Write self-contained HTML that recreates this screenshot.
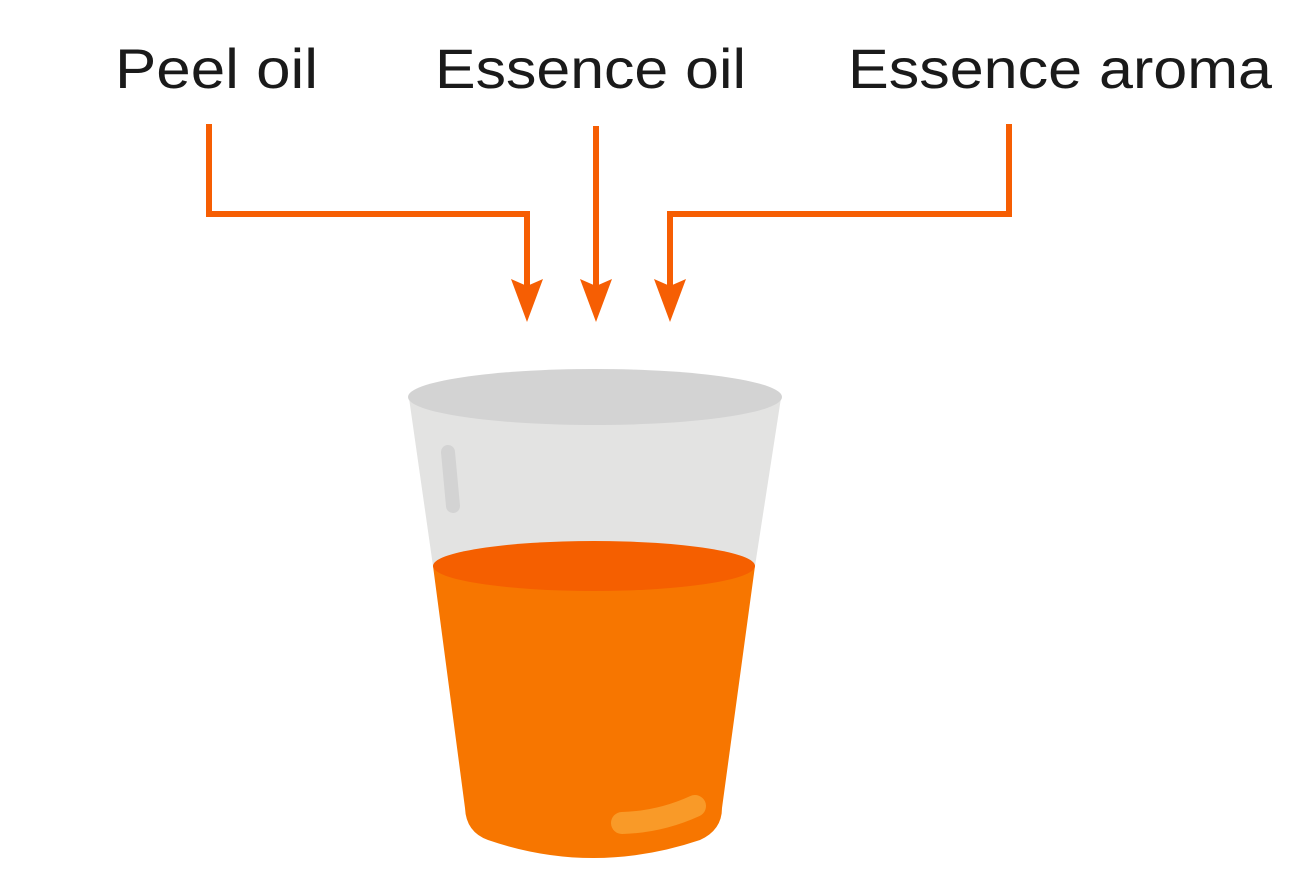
<!DOCTYPE html>
<html><head><style>html,body{margin:0;padding:0;background:#fff}</style></head>
<body>
<svg width="1312" height="881" viewBox="0 0 1312 881" xmlns="http://www.w3.org/2000/svg">
<g font-family="Liberation Sans, sans-serif" font-size="56" fill="#1a1a1a">
<text x="115" y="88" textLength="203" lengthAdjust="spacingAndGlyphs">Peel oil</text>
<text x="435" y="88" textLength="311" lengthAdjust="spacingAndGlyphs">Essence oil</text>
<text x="848" y="88" textLength="424" lengthAdjust="spacingAndGlyphs">Essence aroma</text>
</g>
<g stroke="#f65e03" stroke-width="6" fill="none">
<polyline points="209,124 209,214 527,214 527,292"/>
<line x1="596" y1="126" x2="596" y2="292"/>
<polyline points="1009,124 1009,214 670,214 670,292"/>
</g>
<g fill="#f65e03">
<polygon points="511,279 527,286 543,279 527,322"/>
<polygon points="580,279 596,286 612,279 596,322"/>
<polygon points="654,279 670,286 686,279 670,322"/>
</g>
<polygon points="409,398 781,398 755,566 433,566" fill="#e3e3e2"/>
<ellipse cx="595" cy="397" rx="187" ry="28" fill="#d3d3d3"/>
<line x1="448" y1="452" x2="453" y2="506" stroke="#d3d3d3" stroke-width="14" stroke-linecap="round"/>
<path d="M433,566 L465,808 Q466,832 488,840 Q593,876 700,840 Q722,830 722,808 L755,566 Z" fill="#f77600"/>
<ellipse cx="594" cy="566" rx="161" ry="25" fill="#f55f00"/>
<path d="M622,823 Q660,822 695,806" stroke="#f99a28" stroke-width="22" stroke-linecap="round" fill="none"/>
</svg>
</body></html>
